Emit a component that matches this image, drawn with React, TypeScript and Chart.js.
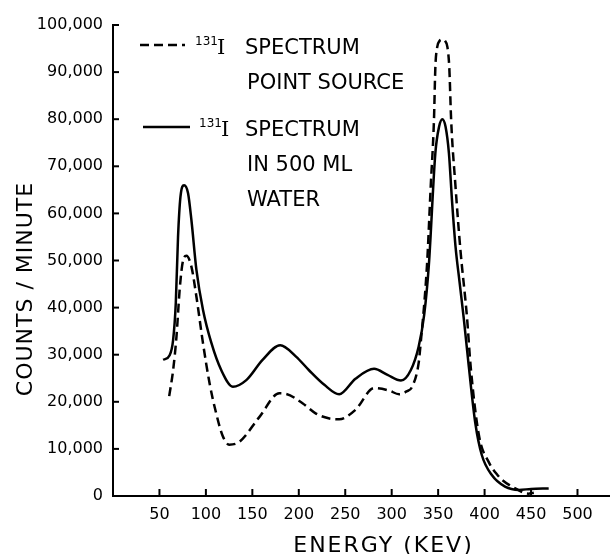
import React, { useEffect, useRef } from "react";
import { Chart, registerables } from "chart.js";

Chart.register(...registerables);

// Energy (keV) / counts per minute, 131I spectrum, point source (dashed)
const pointEnergy = [60.5, 64.7, 68.3, 72, 75.5, 79, 84.4, 89.8, 96.9, 104, 111, 118, 125, 136, 157.7, 179, 186, 204, 218.5, 232, 243.5, 261, 281, 297, 308, 316, 322, 329, 331, 338, 342, 345.5, 347, 349, 351.5, 354.4, 357.5, 360, 362, 364, 368.7, 374, 381, 385, 393.8, 404.5, 415, 419, 433, 447, 453];
const pointCounts = [21200, 26700, 33800, 44400, 50100, 51000, 48700, 42300, 32400, 23900, 17600, 12800, 10900, 11500, 16800, 21800, 21700, 19700, 17500, 16500, 16300, 18300, 22900, 22400, 21600, 22200, 23200, 28200, 32000, 49000, 65700, 79800, 91000, 95300, 96600, 96900, 96600, 95300, 91000, 79800, 65700, 52200, 38100, 27500, 13000, 7200, 4200, 3400, 1600, 500, 700];

// 131I spectrum in 500 ml water (solid)
const waterEnergy = [54, 61, 64.7, 67.6, 70, 72.6, 76.5, 80.8, 84.4, 89.8, 96.9, 105.9, 116.6, 129, 143.5, 161, 180, 197, 211, 227.5, 243.5, 261, 281, 295.5, 310, 320.5, 329, 335, 340, 347, 351, 354.5, 358, 361.6, 365, 368.7, 373, 377.7, 383, 390, 397, 408, 422, 437, 450, 469];
const waterCounts = [28900, 29900, 33100, 41000, 55000, 63500, 66000, 64300, 58600, 48000, 39500, 32500, 26700, 23200, 24600, 28900, 32000, 29600, 26700, 23600, 21600, 24900, 27000, 25700, 24500, 26700, 31700, 38500, 49000, 72800, 78400, 80000, 78400, 72800, 62500, 53000, 45500, 37500, 27500, 15500, 8700, 4400, 2000, 1300, 1500, 1600];

const xTickValues = [50, 100, 150, 200, 250, 300, 350, 400, 450, 500];
const yTickValues = [0, 10000, 20000, 30000, 40000, 50000, 60000, 70000, 80000, 90000, 100000];

const xTitle = "ENERGY (KEV)";
const yTitle = "COUNTS / MINUTE";
const legendPoint = ["SPECTRUM", "POINT SOURCE"];
const legendWater = ["SPECTRUM", "IN 500 ML", "WATER"];
const isotopeMass = "131";
const isotopeSymbol = "I";

const SANS = '"DejaVu Sans", sans-serif';

const decorPlugin = {
  id: "decor",
  afterDraw(chart: any) {
    const ctx = chart.ctx as CanvasRenderingContext2D;
    const xs = chart.scales.x;
    const ys = chart.scales.y;
    const ca = chart.chartArea;
    ctx.save();
    ctx.strokeStyle = "#000";
    ctx.fillStyle = "#000";
    ctx.lineWidth = 2;
    // inward tick marks
    for (const v of xTickValues) {
      const px = xs.getPixelForValue(v);
      ctx.beginPath();
      ctx.moveTo(px, ca.bottom);
      ctx.lineTo(px, ca.bottom - 7);
      ctx.stroke();
    }
    for (const v of yTickValues) {
      if (v === 0) continue;
      const py = ys.getPixelForValue(v);
      ctx.beginPath();
      ctx.moveTo(ca.left, py);
      ctx.lineTo(ca.left + 6, py);
      ctx.stroke();
    }

    // legend
    const drawEntry = (dy: number, x0: number, x1: number, dashed: boolean, lines: string[], supX: number, iX: number) => {
      const ly = ca.top + dy;
      ctx.save();
      ctx.lineWidth = 2.5;
      ctx.setLineDash(dashed ? [9, 5] : []);
      ctx.beginPath();
      ctx.moveTo(ca.left + x0, ly);
      ctx.lineTo(ca.left + x1, ly);
      ctx.stroke();
      ctx.restore();
      ctx.textAlign = "left";
      ctx.textBaseline = "alphabetic";
      ctx.font = `12px ${SANS}`;
      ctx.fillText(isotopeMass, ca.left + supX, ly);
      ctx.font = `21px "DejaVu Serif", serif`;
      ctx.fillText(isotopeSymbol, ca.left + iX, ly + 9);
      ctx.font = `21px ${SANS}`;
      lines.forEach((t, i) => {
        ctx.fillText(t, ca.left + 132 + (i > 0 ? 2 : 0), ly + 9 + i * 35);
      });
    };
    drawEntry(20, 27, 72, true, legendPoint, 82, 104);
    drawEntry(102, 30, 77, false, legendWater, 86, 108);

    // axis titles
    ctx.font = `22px ${SANS}`;
    (ctx as any).letterSpacing = "2px";
    ctx.textAlign = "center";
    ctx.textBaseline = "alphabetic";
    ctx.fillText(xTitle, (ca.left + ca.right) / 2 + 22, 552);
    (ctx as any).letterSpacing = "1px";
    ctx.save();
    ctx.translate(32, 289);
    ctx.rotate(-Math.PI / 2);
    ctx.fillText(yTitle, 0, 0);
    ctx.restore();
    ctx.restore();
  },
};

export default function App() {
  const ref = useRef<HTMLCanvasElement | null>(null);
  useEffect(() => {
    if (!ref.current) return;
    const chart = new Chart(ref.current, {
      type: "line",
      data: {
        datasets: [
          {
            label: "131I spectrum point source",
            data: pointEnergy.map((x, i) => ({ x, y: pointCounts[i] })),
            borderColor: "#000",
            borderWidth: 2.5,
            borderDash: [9, 5],
            pointRadius: 0,
            fill: false,
            cubicInterpolationMode: "monotone",
          },
          {
            label: "131I spectrum in 500 ml water",
            data: waterEnergy.map((x, i) => ({ x, y: waterCounts[i] })),
            borderColor: "#000",
            borderWidth: 2.5,
            pointRadius: 0,
            fill: false,
            cubicInterpolationMode: "monotone",
          },
        ],
      },
      options: {
        responsive: false,
        animation: false,
        devicePixelRatio: 1,
        layout: { padding: { top: 25, left: 0, right: 0, bottom: 0 } },
        plugins: { legend: { display: false }, tooltip: { enabled: false } },
        scales: {
          x: {
            type: "linear",
            min: 0,
            max: 535,
            afterFit: (s: any) => { s.height = 58; },
            afterBuildTicks: (s: any) => { s.ticks = xTickValues.map((v) => ({ value: v })); },
            grid: { display: true, drawOnChartArea: false, drawTicks: false },
            border: { display: true, color: "#000", width: 2 },
            ticks: { color: "#000", font: { family: SANS, size: 16 }, padding: 9, maxRotation: 0, autoSkip: false },
          },
          y: {
            type: "linear",
            min: 0,
            max: 100000,
            afterFit: (s: any) => { s.width = 113; },
            afterBuildTicks: (s: any) => { s.ticks = yTickValues.map((v) => ({ value: v })); },
            grid: { display: true, drawOnChartArea: false, drawTicks: false },
            border: { display: true, color: "#000", width: 2 },
            ticks: {
              color: "#000",
              font: { family: SANS, size: 16 },
              padding: 10,
              autoSkip: false,
              callback: (v: any) => Number(v).toLocaleString("en-US"),
            },
          },
        },
      },
      plugins: [decorPlugin],
    } as any);
    return () => chart.destroy();
  }, []);
  return (
    <div style={{ position: "fixed", left: 0, top: 0, width: 610, height: 554, background: "#fff" }}>
      <canvas ref={ref} width={610} height={554} />
    </div>
  );
}
